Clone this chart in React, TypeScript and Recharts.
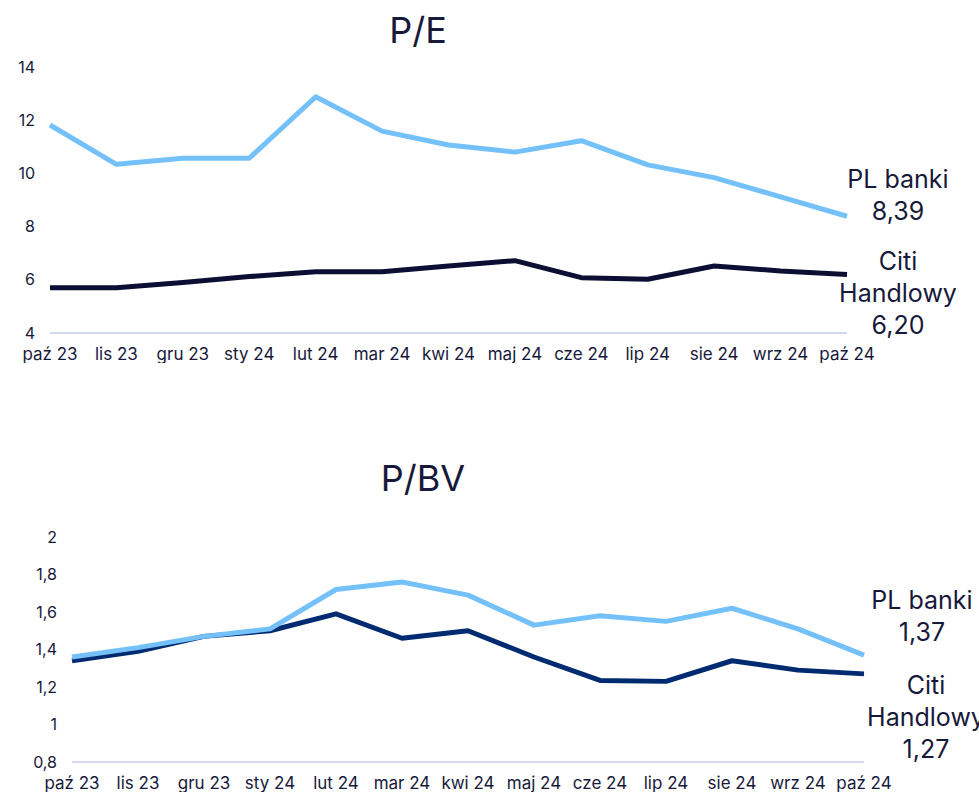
import React from 'react';
import { LineChart, Line, XAxis, YAxis } from 'recharts';

const months = ['paź 23', 'lis 23', 'gru 23', 'sty 24', 'lut 24', 'mar 24', 'kwi 24', 'maj 24', 'cze 24', 'lip 24', 'sie 24', 'wrz 24', 'paź 24'];
const pePL = [11.82, 10.34, 10.57, 10.57, 12.88, 11.59, 11.07, 10.8, 11.23, 10.32, 9.84, 9.12, 8.39];
const peCiti = [5.7, 5.7, 5.9, 6.12, 6.3, 6.3, 6.52, 6.72, 6.08, 6.02, 6.52, 6.33, 6.2];
const pbvPL = [1.36, 1.41, 1.47, 1.51, 1.72, 1.76, 1.69, 1.53, 1.58, 1.55, 1.62, 1.51, 1.37];
const pbvCiti = [1.34, 1.39, 1.47, 1.5, 1.59, 1.46, 1.5, 1.36, 1.235, 1.23, 1.34, 1.29, 1.27];
const peTicks = [4, 6, 8, 10, 12, 14];
const pbvTicks = [0.8, 1, 1.2, 1.4, 1.6, 1.8, 2];

const peData = months.map((m, i) => ({ month: m, pl: pePL[i], citi: peCiti[i] }));
const pbvData = months.map((m, i) => ({ month: m, pl: pbvPL[i], citi: pbvCiti[i] }));

const TEXT = '#17193a';
const FONT = 'Inter, "Noto Sans", sans-serif';
const fmt = (v: number) => v.toFixed(2).replace('.', ',');
const tickFmt = (v: number) => String(v).replace('.', ',');

const tickStyle = { fill: TEXT, fontSize: 16, fontFamily: FONT };
const xTickStyle = { fill: TEXT, fontSize: 17, fontFamily: FONT };

const labelStyle = (left: number, top: number): React.CSSProperties => ({
  position: 'absolute', left, top, transform: 'translateX(-50%)', textAlign: 'center',
  fontSize: 25, lineHeight: '32px', color: TEXT, whiteSpace: 'nowrap', fontFamily: FONT,
});

export default function App() {
  return (
    <div style={{ position: 'absolute', left: 0, top: 0, width: 979, height: 796, overflow: 'hidden', background: '#fff', fontFamily: FONT }}>
      <div style={{ position: 'absolute', left: 0, top: 0 }}>
        <LineChart width={979} height={363} data={peData} margin={{ top: 67, right: 132, left: 0, bottom: 0 }}>
          <XAxis dataKey="month" interval={0} tickLine={false} axisLine={{ stroke: '#d3daf0', strokeWidth: 2 }} tick={xTickStyle} tickMargin={9} />
          <YAxis domain={[4, 14]} ticks={peTicks} width={50} axisLine={false} tickLine={false} tick={tickStyle} tickMargin={9} />
          <Line dataKey="pl" stroke="#74c1fa" strokeWidth={5} dot={false} isAnimationActive={false} strokeLinejoin="round" />
          <Line dataKey="citi" stroke="#0c0f33" strokeWidth={5} dot={false} isAnimationActive={false} strokeLinejoin="round" />
        </LineChart>
      </div>
      <div style={{ position: 'absolute', left: 0, top: 0 }}>
        <LineChart width={979} height={792} data={pbvData} margin={{ top: 537, right: 115, left: 22, bottom: 0 }}>
          <XAxis dataKey="month" interval={0} tickLine={false} axisLine={{ stroke: '#d3daf0', strokeWidth: 2 }} tick={xTickStyle} tickMargin={9} />
          <YAxis domain={[0.8, 2]} ticks={pbvTicks} width={50} axisLine={false} tickLine={false} tick={tickStyle} tickMargin={9} tickFormatter={tickFmt} />
          <Line dataKey="citi" stroke="#002b70" strokeWidth={5} dot={false} isAnimationActive={false} strokeLinejoin="round" />
          <Line dataKey="pl" stroke="#74c1fa" strokeWidth={5} dot={false} isAnimationActive={false} strokeLinejoin="round" />
        </LineChart>
      </div>
      <div style={{ position: 'absolute', left: 418, top: 10, transform: 'translateX(-50%)', fontSize: 36, lineHeight: '40px', color: TEXT }}>P/E</div>
      <div style={{ position: 'absolute', left: 423, top: 458, transform: 'translateX(-50%)', fontSize: 36, lineHeight: '40px', color: TEXT }}>P/BV</div>
      <div style={labelStyle(898, 163)}>PL banki<br />{fmt(pePL[pePL.length - 1])}</div>
      <div style={labelStyle(898, 245)}>Citi<br />Handlowy<br />{fmt(peCiti[peCiti.length - 1])}</div>
      <div style={labelStyle(922, 584)}>PL banki<br />{fmt(pbvPL[pbvPL.length - 1])}</div>
      <div style={labelStyle(926, 669)}>Citi<br />Handlowy<br />{fmt(pbvCiti[pbvCiti.length - 1])}</div>
    </div>
  );
}
